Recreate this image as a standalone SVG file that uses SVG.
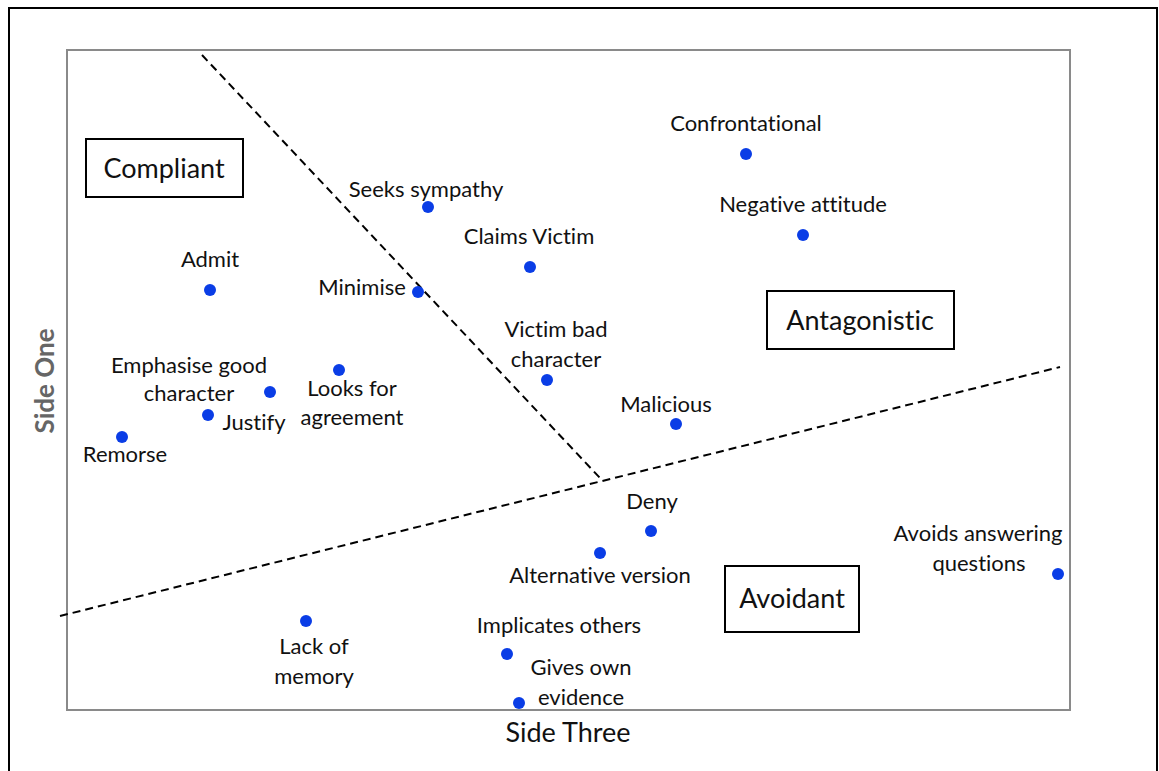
<svg xmlns="http://www.w3.org/2000/svg" width="1159" height="771" viewBox="0 0 1159 771">
  <style>
    text { font-family: Lato, "Open Sans", "Liberation Sans", sans-serif; font-variant-ligatures: none; text-anchor: middle; }
    .lbl { font-size: 22px; fill: #111; }
    .big { font-size: 27px; fill: #111; }
    .axis { font-size: 27px; fill: #111; }
    .axisv { font-size: 26px; font-weight: bold; fill: #666; }
    .dot { fill: #0a3de6; }
    .box { fill: #fff; stroke: #000; stroke-width: 2; }
    .div { fill: none; stroke: #000; stroke-width: 2; stroke-dasharray: 8 5; }
  </style>
  <rect width="1159" height="771" fill="#fff"/>
  <!-- outer border -->
  <rect x="9" y="8" width="1148" height="780" fill="none" stroke="#000" stroke-width="2"/>
  <!-- plot frame -->
  <rect x="67" y="50" width="1003" height="660" fill="none" stroke="#8a8a8a" stroke-width="2"/>

  <!-- axis titles -->
  <text class="axis" x="568" y="742">Side Three</text>
  <text class="axisv" transform="translate(54 381) rotate(-90)">Side One</text>

  <!-- region dividers -->
  <g id="connectors">
    <line class="div" x1="202" y1="55" x2="600" y2="478"/>
    <line class="div" x1="60" y1="616" x2="1060" y2="367"/>
  </g>

  <!-- region labels -->
  <g id="compliant"><rect class="box" x="86" y="139" width="157" height="58"/><text class="big" x="164" y="178">Compliant</text></g>
  <g id="antagonistic"><rect class="box" x="767" y="291" width="187" height="58"/><text class="big" x="860" y="330">Antagonistic</text></g>
  <g id="avoidant"><rect class="box" x="725" y="566" width="134" height="66"/><text class="big" x="792" y="608">Avoidant</text></g>

  <!-- points -->
  <g id="confrontational"><circle class="dot" cx="746" cy="154" r="6"/><text class="lbl" x="746" y="131">Confrontational</text></g>
  <g id="negative-attitude"><circle class="dot" cx="803" cy="235" r="6"/><text class="lbl" x="803" y="212">Negative attitude</text></g>
  <g id="seeks-sympathy"><circle class="dot" cx="428" cy="207" r="6"/><text class="lbl" x="426" y="197">Seeks sympathy</text></g>
  <g id="claims-victim"><circle class="dot" cx="530" cy="267" r="6"/><text class="lbl" x="529" y="244">Claims Victim</text></g>
  <g id="minimise"><circle class="dot" cx="418" cy="292" r="6"/><text class="lbl" x="362" y="295">Minimise</text></g>
  <g id="admit"><circle class="dot" cx="210" cy="290" r="6"/><text class="lbl" x="210" y="267">Admit</text></g>
  <g id="victim-bad-character"><circle class="dot" cx="547" cy="380" r="6"/><text class="lbl" x="556" y="337">Victim bad</text><text class="lbl" x="556" y="367">character</text></g>
  <g id="malicious"><circle class="dot" cx="676" cy="424" r="6"/><text class="lbl" x="666" y="412">Malicious</text></g>
  <g id="looks-for-agreement"><circle class="dot" cx="339" cy="370" r="6"/><text class="lbl" x="352" y="396">Looks for</text><text class="lbl" x="352" y="425">agreement</text></g>
  <g id="emphasise-good-character"><circle class="dot" cx="270" cy="392" r="6"/><text class="lbl" x="189" y="373">Emphasise good</text><text class="lbl" x="189" y="401">character</text></g>
  <g id="justify"><circle class="dot" cx="208" cy="415" r="6"/><text class="lbl" x="254" y="430">Justify</text></g>
  <g id="remorse"><circle class="dot" cx="122" cy="437" r="6"/><text class="lbl" x="125" y="462">Remorse</text></g>
  <g id="deny"><circle class="dot" cx="651" cy="531" r="6"/><text class="lbl" x="652" y="509">Deny</text></g>
  <g id="alternative-version"><circle class="dot" cx="600" cy="553" r="6"/><text class="lbl" x="600" y="583">Alternative version</text></g>
  <g id="avoids-answering-questions"><circle class="dot" cx="1058" cy="574" r="6"/><text class="lbl" x="978" y="541">Avoids answering</text><text class="lbl" x="979" y="571">questions</text></g>
  <g id="lack-of-memory"><circle class="dot" cx="306" cy="621" r="6"/><text class="lbl" x="314" y="654">Lack of</text><text class="lbl" x="314" y="684">memory</text></g>
  <g id="implicates-others"><circle class="dot" cx="507" cy="654" r="6"/><text class="lbl" x="559" y="633">Implicates others</text></g>
  <g id="gives-own-evidence"><circle class="dot" cx="519" cy="703" r="6"/><text class="lbl" x="581" y="675">Gives own</text><text class="lbl" x="581" y="705">evidence</text></g>
</svg>
